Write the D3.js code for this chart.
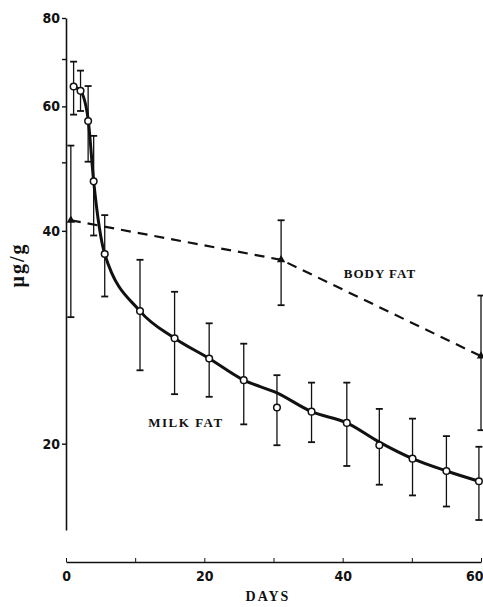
<!DOCTYPE html>
<html>
<head>
<meta charset="utf-8">
<script src="https://cdn.jsdelivr.net/npm/d3@7"></script>
<style>
  html, body { margin: 0; padding: 0; background: #fff; }
  svg { display: block; }
  .tick text { font-family: "Liberation Sans Narrow", "DejaVu Sans Condensed", "Liberation Sans", sans-serif; font-size: 14px; fill: #111; }
  .lbl { font-family: "Liberation Serif", "DejaVu Serif", serif; font-weight: bold; fill: #111; }
</style>
</head>
<body>
<svg width="483" height="607"></svg>
<script>
// milk fat: measured points with error bars
const milkDays = [1.1, 2.1, 3.2, 4, 5.6, 10.7, 15.7, 20.7, 25.7, 30.5, 35.5, 40.6, 45.3, 50.1, 55, 59.7];
const milkMean = [64, 63.1, 57.2, 47, 37.1, 30.8, 28.2, 26.4, 24.6, 22.5, 22.2, 21.4, 19.9, 19.05, 18.3, 17.7];
const milkHigh = [69.4, 67.4, 64.1, 54.5, 42.1, 36.4, 32.8, 29.6, 27.7, 25.0, 24.4, 24.4, 22.4, 21.7, 20.5, 19.8];
const milkLow  = [58.4, 59.1, 50.1, 39.4, 32.3, 25.4, 23.5, 23.3, 21.3, 19.9, 20.1, 18.6, 17.5, 16.9, 16.3, 15.6];
// fitted milk fat curve
const milkFit  = [64, 63.1, 57.5, 47, 37.1, 30.8, 28.2, 26.4, 24.6, 23.6, 22.2, 21.4, 20.1, 19.05, 18.3, 17.7];

// body fat
const bodyDays = [0.7, 31.1, 60];
const bodyMean = [41.4, 36.4, 26.6];
const bodyHigh = [52.8, 41.4, 32.4];
const bodyLow  = [30.2, 31.4, 20.9];

const yTicks = [20, 40, 50, 60, 70, 80];
const yLabels = [20, 40, 60, 80];
const xTicks = [0, 10, 20, 30, 40, 50, 60];
const xLabels = [0, 20, 40, 60];

const svg = d3.select("svg");
const x = d3.scaleLinear().domain([0, 60]).range([66, 481]);
const y = d3.scaleLog().domain([15.1, 80]).range([530, 18]);

// axes
const yAxis = d3.axisLeft(y)
  .tickValues(yTicks)
  .tickSize(4)
  .tickSizeOuter(0)
  .tickPadding(2)
  .tickFormat(d => yLabels.includes(d) ? d : "");
const gy = svg.append("g").attr("transform", "translate(66,0)").call(yAxis);
gy.select(".domain").attr("stroke", "#111").attr("stroke-width", 1.6);
gy.selectAll(".tick line").attr("stroke", "#111").attr("stroke-width", 1.4);
gy.selectAll(".tick text").attr("font-weight", "bold");

const xAxis = d3.axisTop(x)
  .tickValues(xTicks)
  .tickSize(4)
  .tickSizeOuter(0)
  .tickFormat(d => xLabels.includes(d) ? d : "");
const gx = svg.append("g").attr("transform", "translate(0,562)").call(xAxis);
gx.select(".domain").attr("stroke", "#111").attr("stroke-width", 1.4);
gx.selectAll(".tick line").attr("stroke", "#111");
gx.selectAll(".tick text").attr("y", 9).attr("dy", "0.71em").attr("font-weight", "bold");
gx.selectAll(".tick text").filter(d => d === 60).attr("text-anchor", "end").attr("dx", 2);

// error bars
function errorBars(days, lo, hi, cls) {
  const g = svg.append("g").attr("class", cls).attr("stroke", "#111").attr("stroke-width", 1.3);
  days.forEach((d, i) => {
    const cx = x(d);
    g.append("line").attr("x1", cx).attr("x2", cx).attr("y1", y(hi[i])).attr("y2", y(lo[i]));
    g.append("line").attr("x1", cx - 3.5).attr("x2", cx + 3.5).attr("y1", y(hi[i])).attr("y2", y(hi[i])).attr("stroke-width", 1.8);
    g.append("line").attr("x1", cx - 3.5).attr("x2", cx + 3.5).attr("y1", y(lo[i])).attr("y2", y(lo[i])).attr("stroke-width", 1.8);
  });
}
errorBars(milkDays, milkLow, milkHigh, "milk-err");
errorBars(bodyDays, bodyLow, bodyHigh, "body-err");

// body fat dashed line
const bodyLine = d3.line().x(d => x(d[0])).y(d => y(d[1]));
svg.append("path")
  .datum(bodyDays.map((d, i) => [d, bodyMean[i]]))
  .attr("d", bodyLine)
  .attr("fill", "none")
  .attr("stroke", "#111")
  .attr("stroke-width", 2.2)
  .attr("stroke-dasharray", "10,7");

svg.append("g").selectAll("path")
  .data(bodyDays.map((d, i) => [d, bodyMean[i]]))
  .join("path")
  .attr("transform", d => `translate(${x(d[0])},${y(d[1])})`)
  .attr("d", d3.symbol(d3.symbolTriangle, 30))
  .attr("fill", "#111");

// milk fat fitted curve
const milkLine = d3.line().x(d => x(d[0])).y(d => y(d[1])).curve(d3.curveMonotoneX);
svg.append("path")
  .datum(milkDays.map((d, i) => [d, milkFit[i]]))
  .attr("d", milkLine)
  .attr("fill", "none")
  .attr("stroke", "#111")
  .attr("stroke-width", 3);

svg.append("g").selectAll("circle")
  .data(milkDays.map((d, i) => [d, milkMean[i]]))
  .join("circle")
  .attr("cx", d => x(d[0]))
  .attr("cy", d => y(d[1]))
  .attr("r", 3.3)
  .attr("fill", "#fff")
  .attr("stroke", "#111")
  .attr("stroke-width", 1.5);

// labels
svg.append("text").attr("class", "lbl")
  .attr("x", 380).attr("y", 278)
  .attr("text-anchor", "middle")
  .attr("font-size", 13).attr("letter-spacing", 1)
  .text("BODY FAT");
svg.append("text").attr("class", "lbl")
  .attr("x", 186).attr("y", 427)
  .attr("text-anchor", "middle")
  .attr("font-size", 13).attr("letter-spacing", 1.5)
  .text("MILK FAT");
svg.append("text").attr("class", "lbl")
  .attr("x", 268).attr("y", 601)
  .attr("text-anchor", "middle")
  .attr("font-size", 14).attr("letter-spacing", 2)
  .text("DAYS");
svg.append("text").attr("class", "lbl")
  .attr("transform", "translate(24,265) rotate(-90)")
  .attr("text-anchor", "middle")
  .attr("font-size", 20).attr("letter-spacing", 2)
  .text("μg/g");
</script>
</body>
</html>
